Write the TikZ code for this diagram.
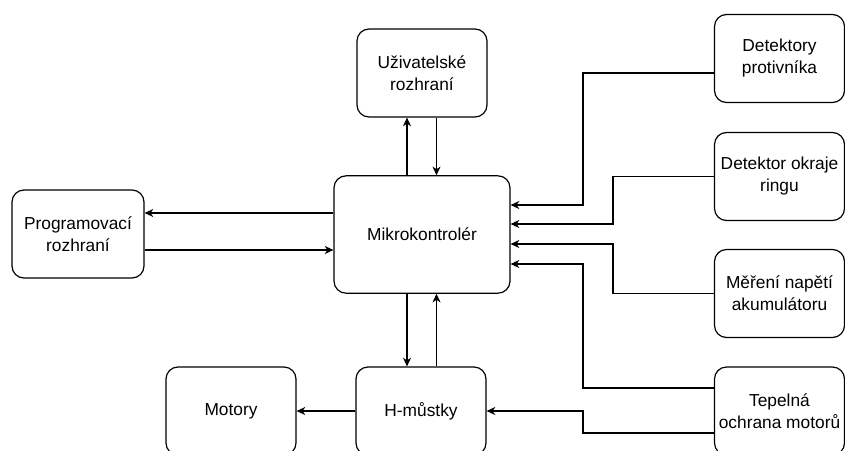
\documentclass[tikz,border=0pt]{standalone}
\usepackage{fontspec}
\setmainfont{Liberation Sans}
\usetikzlibrary{arrows.meta}
\tikzset{
  box/.style={draw, line width=0.9pt, rounded corners=9pt, align=center,
    minimum width=97.5pt, minimum height=66pt, inner sep=1pt,
    font=\fontsize{13}{16.5}\selectfont},
  arr/.style={-{Stealth[length=6.5pt,width=6pt,inset=2pt]}, line width=0.9pt},
}
\begin{document}
\begin{tikzpicture}[x=0.75pt,y=-0.75pt]
\useasboundingbox (0,0) rectangle (845,450);
\clip (0,0) rectangle (845,450);
\node[box] (ui) at (422,73) {Uživatelské\\rozhraní};
\node[box, minimum width=132pt, minimum height=88pt] (mcu) at (422,234.5) {Mikrokontrolér};
\node[box, minimum width=99pt] (prog) at (78,234) {Programovací\\rozhraní};
\node[box] (detp) at (779.5,58.5) {Detektory\\protivníka};
\node[box] (deto) at (779.5,176.5) {Detektor okraje\\ringu};
\node[box] (mer) at (779.5,293.5) {Měření napětí\\akumulátoru};
\node[box] (tep) at (779.5,411) {Tepelná\\ochrana motorů};
\node[box] (hm) at (421,411) {H-můstky};
\node[box] (mot) at (231,411) {Motory};
% helper coordinates
\coordinate (xa) at (407,0);
\coordinate (xb) at (436.5,0);
\coordinate (ya) at (0,213);
\coordinate (yb) at (0,250);
\coordinate (j1) at (583,205);
\coordinate (j2) at (613,224);
\coordinate (j3) at (613,244);
\coordinate (j4) at (583,264);
\coordinate (j5) at (583,411);
\coordinate (yp) at (0,73);
\coordinate (yt1) at (0,388);
\coordinate (yt2) at (0,433);
% MCU <-> UI
\draw[arr] (mcu.north -| xa) -- (ui.south -| xa);
\draw[arr] (ui.south -| xb) -- (mcu.north -| xb);
% MCU <-> Prog
\draw[arr] (mcu.west |- ya) -- (prog.east |- ya);
\draw[arr] (prog.east |- yb) -- (mcu.west |- yb);
% MCU <-> H
\draw[arr] (mcu.south -| xa) -- (hm.north -| xa);
\draw[arr] (hm.north -| xb) -- (mcu.south -| xb);
% H -> Motory
\draw[arr] (hm.west) -- (mot.east);
% sensors -> MCU
\draw[arr] (detp.west |- yp) -| (j1) -- (mcu.east |- j1);
\draw[arr] (deto.west) -| (j2) -- (mcu.east |- j2);
\draw[arr] (mer.west) -| (j3) -- (mcu.east |- j3);
\draw[arr] (tep.west |- yt1) -| (j4) -- (mcu.east |- j4);
\draw[arr] (tep.west |- yt2) -| (j5) -- (hm.east |- j5);
\end{tikzpicture}
\end{document}
